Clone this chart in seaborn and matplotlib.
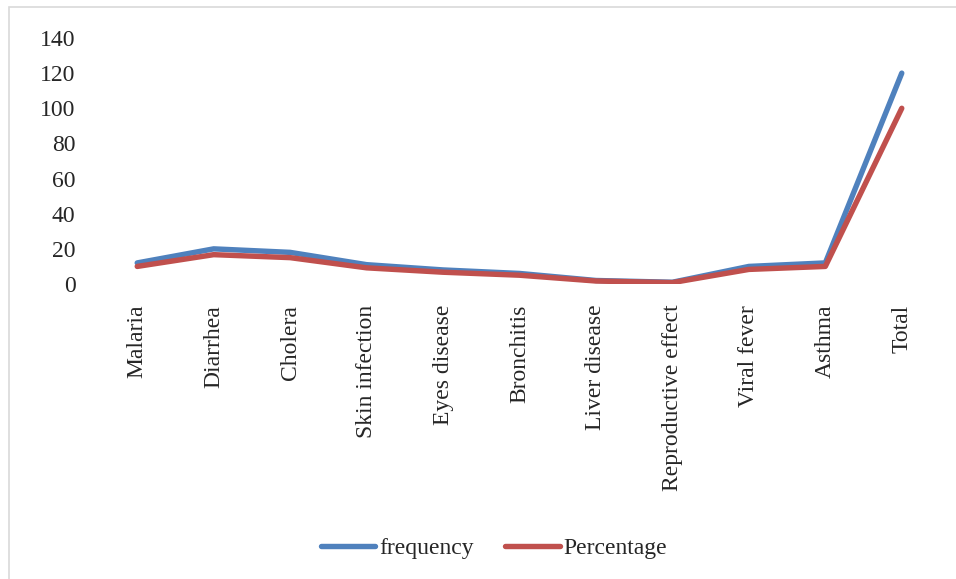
import pandas as pd
import matplotlib.pyplot as plt
import seaborn as sns
from matplotlib.patches import Rectangle

# values
diseases = ['Malaria', 'Diarrhea', 'Cholera', 'Skin infection', 'Eyes disease', 'Bronchitis',
            'Liver disease', 'Reproductive effect', 'Viral fever', 'Asthma', 'Total']
frequency = [12, 20, 18, 11, 8, 6, 2, 1, 10, 12, 120]
percentage = [10, 16.7, 15, 9.2, 6.7, 5, 1.7, 0.8, 8.3, 10, 100]

df = pd.DataFrame({'Disease': diseases * 2,
                   'Value': frequency + percentage,
                   'Series': ['frequency'] * len(diseases) + ['Percentage'] * len(diseases)})
df['x'] = list(range(len(diseases))) * 2

sns.set_style('white')
plt.rcParams['font.family'] = ['Liberation Serif', 'DejaVu Serif']

fig = plt.figure(figsize=(9.56, 5.79), dpi=100)
ax = fig.add_axes([99 / 956, 1 - 284 / 579, (940 - 99) / 956, (284 - 38) / 579])

sns.lineplot(data=df, x='x', y='Value', hue='Series', ax=ax, linewidth=3.9,
             palette={'frequency': '#4F81BD', 'Percentage': '#C0504D'},
             solid_capstyle='round', solid_joinstyle='round')

ax.set_xlim(-0.5, len(diseases) - 0.5)
ax.set_ylim(0, 140)
ax.set_yticks(range(0, 141, 20))
ax.set_xticks(range(len(diseases)))
ax.set_xticklabels(diseases, rotation=90, va='top', ha='center')
ax.tick_params(axis='x', length=0, pad=15, labelsize=17)
ax.tick_params(axis='y', length=0, pad=17, labelsize=17)
ax.set_xlabel('')
ax.set_ylabel('')
for s in ax.spines.values():
    s.set_visible(False)

ax.legend(loc='center', bbox_to_anchor=(494 / 956, 31 / 579), bbox_transform=fig.transFigure,
          ncol=2, frameon=False, fontsize=17, handlelength=2.3, handletextpad=0.15,
          columnspacing=1.35)

# outer chart frame (only left/top edges visible in the crop)
fig.patches.append(Rectangle((9 / 956, -0.1), 1.2, 1 - 7 / 579 + 0.1, transform=fig.transFigure,
                             fill=False, edgecolor='#D9D9D9', linewidth=1.2))

plt.savefig('out.png', dpi=100)
